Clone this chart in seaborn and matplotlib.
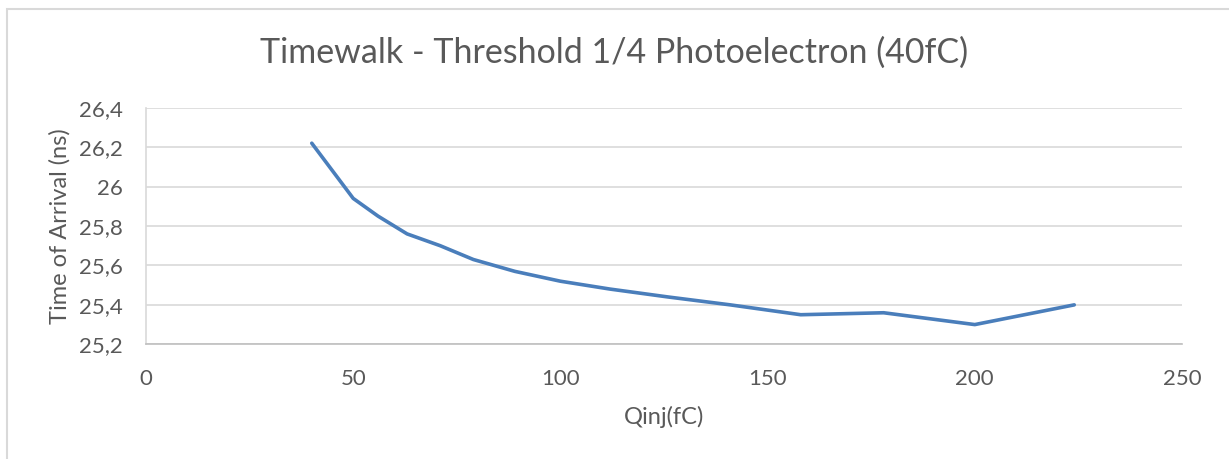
import matplotlib
matplotlib.use('Agg')
import matplotlib.pyplot as plt
import matplotlib.ticker as mticker
import pandas as pd
import seaborn as sns

# Datos: carga inyectada (fC) y tiempo de llegada (ns)
qinj_fc = [40, 50, 56, 63, 71, 79, 89, 100, 112, 126, 141, 158, 178, 200, 224]
tiempo_ns = [26.22, 25.94, 25.85, 25.76, 25.70, 25.63, 25.57, 25.52,
             25.48, 25.44, 25.40, 25.35, 25.36, 25.30, 25.40]
ticks_x = [0, 50, 100, 150, 200, 250]
ticks_y = [25.2, 25.4, 25.6, 25.8, 26.0, 26.2, 26.4]

df = pd.DataFrame({'Qinj': qinj_fc, 'ToA': tiempo_ns})

# Estilo parecido a Excel
sns.set_style('white')
plt.rcParams['font.family'] = ['Lato', 'DejaVu Sans']
gris_texto = '#595959'

fig = plt.figure(figsize=(12.29, 4.59), dpi=100)
ax = fig.add_axes([146 / 1229, 1 - 344.3 / 459,
                   (1182 - 146) / 1229, (344.3 - 107.7) / 459])

# Marco exterior del área del gráfico
fig.patches.append(plt.Rectangle((7 / 1229, -0.05), 1.1, 1 - 8.5 / 459 + 0.05,
                                 transform=fig.transFigure, fill=False,
                                 edgecolor='#d9d9d9', linewidth=1.5))

sns.lineplot(data=df, x='Qinj', y='ToA', ax=ax, color='#4a7ebb',
             linewidth=2.6, solid_joinstyle='round', solid_capstyle='round')

ax.set_xlim(0, 250)
ax.set_ylim(25.2, 26.4)
ax.set_xticks(ticks_x)
ax.set_yticks(ticks_y)
ax.yaxis.set_major_formatter(mticker.FuncFormatter(
    lambda v, p: f'{v:g}'.replace('.', ',')))
ax.grid(axis='y', color='#d9d9d9', linewidth=1.2)
ax.set_axisbelow(True)

for lado in ['top', 'right']:
    ax.spines[lado].set_visible(False)
ax.spines['left'].set_color('#d9d9d9')
ax.spines['bottom'].set_color('#bfbfbf')
ax.spines['left'].set_linewidth(1.2)
ax.spines['bottom'].set_linewidth(1.2)

ax.tick_params(axis='both', length=0, labelsize=16, colors=gris_texto)
ax.tick_params(axis='x', pad=18)
ax.tick_params(axis='y', pad=17)

ax.set_xlabel('Qinj(fC)', fontsize=17, color=gris_texto, labelpad=12)
ax.set_ylabel('Time of Arrival (ns)', fontsize=17, color=gris_texto,
              labelpad=6)
fig.text(0.5, 1 - 53 / 459, 'Timewalk - Threshold 1/4 Photoelectron (40fC)',
         ha='center', va='center', fontsize=24.5, color=gris_texto)

fig.savefig('out.png', dpi=100)
